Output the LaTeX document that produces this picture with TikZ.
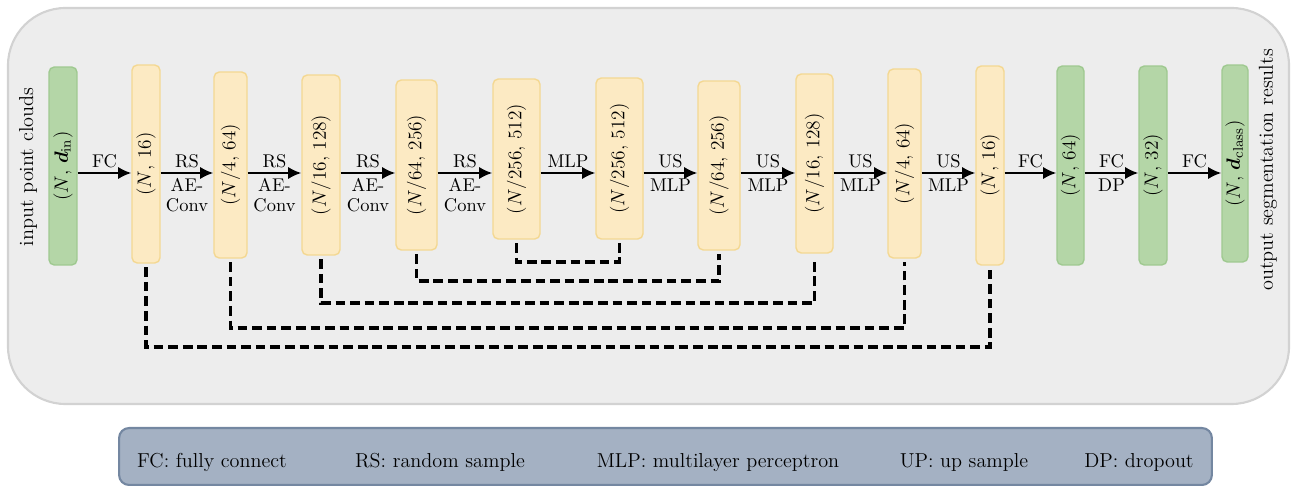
\documentclass[tikz,border=0pt]{standalone}
\usepackage{bm}
\usetikzlibrary{arrows.meta}
\definecolor{outerfill}{HTML}{EDEDED}
\definecolor{outerdraw}{HTML}{D2D2D2}
\definecolor{yfill}{HTML}{FCEAC3}
\definecolor{ydraw}{HTML}{F4D892}
\definecolor{gfill}{HTML}{B4D6A7}
\definecolor{gdraw}{HTML}{9FC990}
\definecolor{lfill}{HTML}{A4B1C3}
\definecolor{ldraw}{HTML}{7487A1}
\tikzset{
  blk/.style={draw, rounded corners=3pt, line width=0.8pt, inner sep=0pt, font=\fontsize{11}{13}\selectfont},
  ybox/.style={blk, fill=yfill, draw=ydraw},
  gbox/.style={blk, fill=gfill, draw=gdraw},
  arr/.style={line width=1.2pt, -{Latex[length=7.5pt,width=7pt]}},
  skipline/.style={line width=1.9pt, dash pattern=on 5.5pt off 2.8pt},
  lab/.style={font=\fontsize{10.5}{11.2}\selectfont, align=center, inner sep=2.5pt},
  sidelab/.style={font=\fontsize{11.5}{13}\selectfont, rotate=90, inner sep=0pt},
  legtext/.style={font=\fontsize{11.5}{13}\selectfont, anchor=base, inner sep=0pt},
}
\begin{document}
\begin{tikzpicture}[x=0.02cm, y=-0.02cm]
\useasboundingbox (0,0) rectangle (1295,486);
% outer panel
\draw[fill=outerfill, draw=outerdraw, line width=1.2pt, rounded corners=1.15cm] (8,8) rectangle (1289,404);
% side labels
\node[sidelab] (inlab) at (28,167) {input point clouds};
\node[sidelab] (outlab) at (1268,170) {output segmentation results};
% blocks
\node[gbox, minimum width=0.56cm, minimum height=3.96cm] (in) at (63,166) {\rotatebox{90}{($N$, $\bm{d}_{\mathrm{in}}$)}};
\node[ybox, minimum width=0.56cm, minimum height=3.96cm] (b1) at (146,164) {\rotatebox{90}{($N$, 16)}};
\node[ybox, minimum width=0.66cm, minimum height=3.72cm] (b2) at (230.5,165) {\rotatebox{90}{($N$/4, 64)}};
\node[ybox, minimum width=0.76cm, minimum height=3.60cm] (b3) at (321,165) {\rotatebox{90}{($N$/16, 128)}};
\node[ybox, minimum width=0.82cm, minimum height=3.40cm] (b4) at (416.5,165) {\rotatebox{90}{($N$/64, 256)}};
\node[ybox, minimum width=0.94cm, minimum height=3.20cm] (b5) at (516.5,159) {\rotatebox{90}{($N$/256, 512)}};
\node[ybox, minimum width=0.94cm, minimum height=3.22cm] (b6) at (619.5,158.5) {\rotatebox{90}{($N$/256, 512)}};
\node[ybox, minimum width=0.84cm, minimum height=3.38cm] (b7) at (719,165.5) {\rotatebox{90}{($N$/64, 256)}};
\node[ybox, minimum width=0.74cm, minimum height=3.58cm] (b8) at (814.5,163.5) {\rotatebox{90}{($N$/16, 128)}};
\node[ybox, minimum width=0.66cm, minimum height=3.78cm] (b9) at (904.5,163.5) {\rotatebox{90}{($N$/4, 64)}};
\node[ybox, minimum width=0.56cm, minimum height=3.98cm] (b10) at (990,165.5) {\rotatebox{90}{($N$, 16)}};
\node[gbox, minimum width=0.54cm, minimum height=3.98cm] (g1) at (1070.5,165.5) {\rotatebox{90}{($N$, 64)}};
\node[gbox, minimum width=0.56cm, minimum height=3.98cm] (g2) at (1153,165.5) {\rotatebox{90}{($N$, 32)}};
\node[gbox, minimum width=0.52cm, minimum height=3.94cm] (g3) at (1235,163.5) {\rotatebox{90}{($N$, $\bm{d}_{\mathrm{class}}$)}};
% arrows
\coordinate (ay) at (0,173);
\draw[arr] (in.east|-ay) -- node[lab,above]{FC} (b1.west|-ay);
\draw[arr] (b1.east|-ay) -- node[lab,above]{RS} node[lab,below]{AE-\\Conv} (b2.west|-ay);
\draw[arr] (b2.east|-ay) -- node[lab,above]{RS} node[lab,below]{AE-\\Conv} (b3.west|-ay);
\draw[arr] (b3.east|-ay) -- node[lab,above]{RS} node[lab,below]{AE-\\Conv} (b4.west|-ay);
\draw[arr] (b4.east|-ay) -- node[lab,above]{RS} node[lab,below]{AE-\\Conv} (b5.west|-ay);
\draw[arr] (b5.east|-ay) -- node[lab,above]{MLP} (b6.west|-ay);
\draw[arr] (b6.east|-ay) -- node[lab,above]{US} node[lab,below]{MLP} (b7.west|-ay);
\draw[arr] (b7.east|-ay) -- node[lab,above]{US} node[lab,below]{MLP} (b8.west|-ay);
\draw[arr] (b8.east|-ay) -- node[lab,above]{US} node[lab,below]{MLP} (b9.west|-ay);
\draw[arr] (b9.east|-ay) -- node[lab,above]{US} node[lab,below]{MLP} (b10.west|-ay);
\draw[arr] (b10.east|-ay) -- node[lab,above]{FC} (g1.west|-ay);
\draw[arr] (g1.east|-ay) -- node[lab,above]{FC} node[lab,below]{DP} (g2.west|-ay);
\draw[arr] (g2.east|-ay) -- node[lab,above]{FC} (g3.west|-ay);
% skip connections
\coordinate (s1) at (0,262);
\coordinate (s2) at (0,281);
\coordinate (s3) at (0,303);
\coordinate (s4) at (0,328);
\coordinate (s5) at (0,347);
\draw[skipline] ([yshift=-2pt]b5.south) -- (b5.south|-s1) -| ([yshift=-2pt]b6.south);
\draw[skipline] ([yshift=-2pt]b4.south) -- (b4.south|-s2) -| ([yshift=-2pt]b7.south);
\draw[skipline] ([yshift=-2pt]b3.south) -- (b3.south|-s3) -| ([yshift=-2pt]b8.south);
\draw[skipline] ([yshift=-2pt]b2.south) -- (b2.south|-s4) -| ([yshift=-2pt]b9.south);
\draw[skipline] ([yshift=-2pt]b1.south) -- (b1.south|-s5) -| ([yshift=-2pt]b10.south);
% legend
\node[draw=ldraw, fill=lfill, line width=1.2pt, rounded corners=0.2cm, minimum width=21.86cm, minimum height=1.14cm, inner sep=0pt] (leg) at (665.5,456.5) {};
\node[legtext] (l1) at (212,467) {FC: fully connect};
\node[legtext] (l2) at (440,467) {RS: random sample};
\node[legtext] (l3) at (718,467) {MLP: multilayer perceptron};
\node[legtext] (l4) at (964,467) {UP: up sample};
\node[legtext] (l5) at (1139,467) {DP: dropout};
\end{tikzpicture}
\end{document}
